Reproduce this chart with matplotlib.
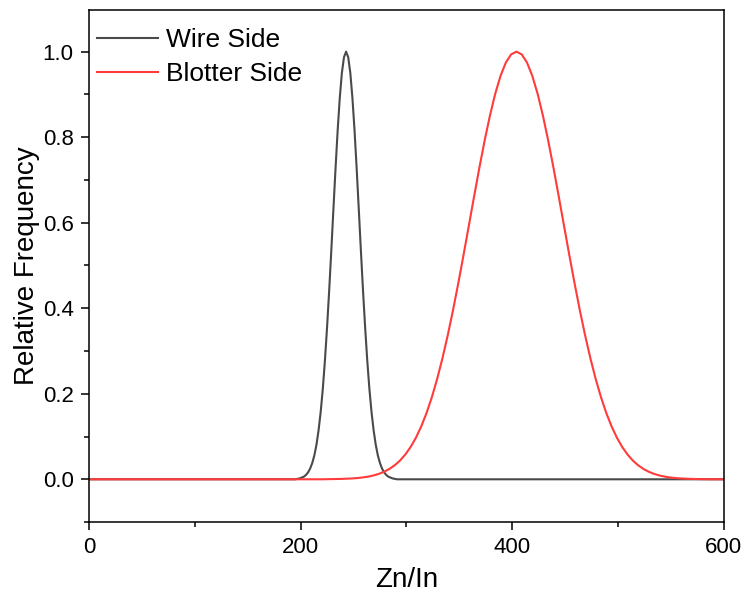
import matplotlib.pyplot as plt
from matplotlib.ticker import FixedLocator

plt.rcParams['font.family'] = ['Liberation Sans', 'DejaVu Sans']

# Wire side distribution (Zn/In ratio vs relative frequency)
wire_x = [0, 195, 199, 203, 205, 207, 209, 211, 213, 215, 217, 219, 221, 223,
          225, 227, 229, 231, 233, 235, 237, 239, 241, 243, 245, 247, 249, 251,
          253, 255, 257, 259, 261, 263, 265, 267, 269, 271, 273, 275, 277, 279,
          281, 283, 287, 291, 600]
wire_y = [0.0, 0.0, 0.002, 0.006, 0.010, 0.016, 0.025, 0.038, 0.056, 0.081,
          0.115, 0.158, 0.212, 0.278, 0.355, 0.441, 0.534, 0.631, 0.726, 0.815,
          0.891, 0.950, 0.987, 1.000, 0.987, 0.950, 0.891, 0.815, 0.726, 0.631,
          0.534, 0.441, 0.355, 0.278, 0.212, 0.158, 0.115, 0.081, 0.056, 0.038,
          0.025, 0.016, 0.010, 0.006, 0.002, 0.0, 0.0]

# Blotter side distribution
blotter_x = [0, 220, 239, 249, 254, 259, 264, 269, 274, 279, 284, 289, 294,
             299, 304, 309, 314, 319, 324, 329, 334, 339, 344, 349, 354, 359,
             364, 369, 374, 379, 384, 389, 394, 399, 404, 409, 414, 419, 424,
             429, 434, 439, 444, 449, 454, 459, 464, 469, 474, 479, 484, 489,
             494, 499, 504, 509, 514, 519, 524, 529, 534, 539, 544, 549, 554,
             559, 569, 588, 600]
blotter_y = [0.0, 0.0, 0.0009, 0.0020, 0.0030, 0.0044, 0.0063, 0.0090, 0.0127,
             0.0177, 0.0243, 0.0329, 0.0439, 0.0580, 0.0756, 0.0972, 0.1234,
             0.1547, 0.1915, 0.2339, 0.2821, 0.3358, 0.3946, 0.4578, 0.5243,
             0.5927, 0.6615, 0.7288, 0.7926, 0.8509, 0.9018, 0.9435, 0.9745,
             0.9936, 1.0000, 0.9936, 0.9745, 0.9435, 0.9018, 0.8509, 0.7926,
             0.7288, 0.6615, 0.5927, 0.5243, 0.4578, 0.3946, 0.3358, 0.2821,
             0.2339, 0.1915, 0.1547, 0.1234, 0.0972, 0.0756, 0.0580, 0.0439,
             0.0329, 0.0243, 0.0177, 0.0127, 0.0090, 0.0063, 0.0044, 0.0030,
             0.0020, 0.0009, 0.0, 0.0]

x_major = [0, 200, 400, 600]
x_minor = [100, 300, 500]
y_major = [0.0, 0.2, 0.4, 0.6, 0.8, 1.0]
y_minor = [-0.1, 0.1, 0.3, 0.5, 0.7, 0.9]

fig = plt.figure(figsize=(7.45, 5.98), dpi=100)
ax = fig.add_axes([0.1195, 0.127, 0.852, 0.856])

ax.plot(wire_x, wire_y, color='#4a4a4a', lw=1.5, label='Wire Side')
ax.plot(blotter_x, blotter_y, color='#ff3b3b', lw=1.5, label='Blotter Side')

ax.set_xlim(0, 600)
ax.set_ylim(-0.1, 1.097)
ax.set_xticks(x_major)
ax.set_yticks(y_major)
ax.set_yticklabels([f'{v:.1f}' for v in y_major])
ax.xaxis.set_minor_locator(FixedLocator(x_minor))
ax.yaxis.set_minor_locator(FixedLocator(y_minor))

ax.tick_params(which='major', direction='out', length=6, width=1.1,
               labelsize=16, pad=5)
ax.tick_params(which='minor', direction='out', length=3.5, width=1.1)
for s in ax.spines.values():
    s.set_linewidth(1.1)

ax.set_xlabel('Zn/In', fontsize=20, labelpad=6)
ax.set_ylabel('Relative Frequency', fontsize=20, labelpad=2)

ax.legend(loc='upper left', bbox_to_anchor=(0.0, 0.98), borderaxespad=0,
          frameon=False, fontsize=19, handlelength=2.3, handletextpad=0.3,
          labelspacing=0.37, borderpad=0.3)

fig.savefig('out.png', dpi=100)
